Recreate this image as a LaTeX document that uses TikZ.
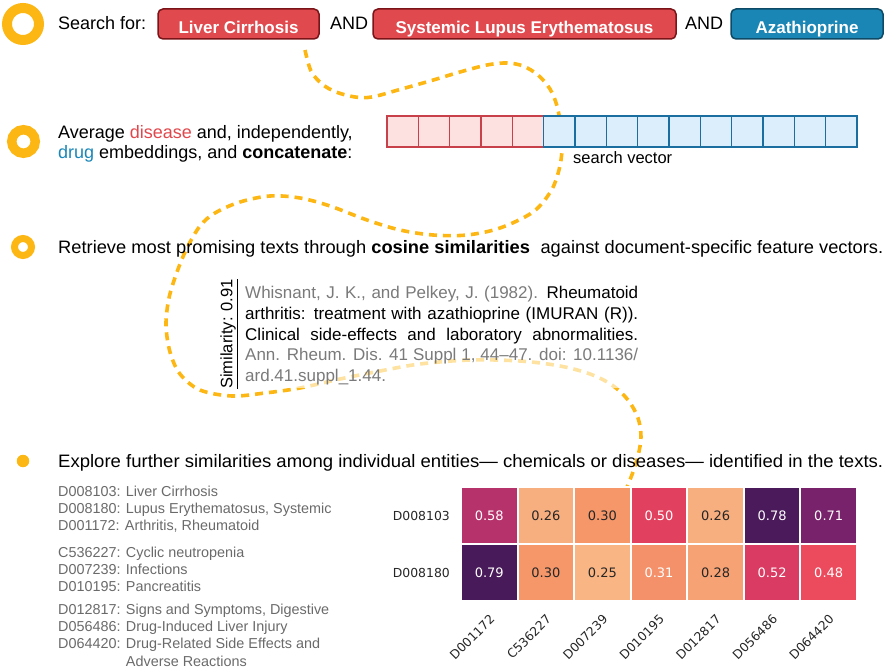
\documentclass[tikz,border=0pt]{standalone}
\usepackage{fontspec}
\usepackage{graphicx}
\setmainfont{Liberation Sans}
\newfontfamily\dejavu{DejaVu Sans}
\newcommand\setfs[1]{\fontsize{#1}{#1}\selectfont}
\definecolor{ringc}{RGB}{253,183,20}
\definecolor{redfill}{HTML}{E04A4F}
\definecolor{redborder}{HTML}{7A1418}
\definecolor{bluefill}{HTML}{1A86B5}
\definecolor{blueborder}{HTML}{0C4A66}
\definecolor{disred}{HTML}{E0474C}
\definecolor{drugblue}{HTML}{1A87B8}
\definecolor{vredfill}{HTML}{FDE0E0}
\definecolor{vredline}{HTML}{C8404A}
\definecolor{vbluefill}{HTML}{DCEEFB}
\definecolor{vblueline}{HTML}{1A6FA0}
\definecolor{refgrey}{HTML}{7A7A7A}
\definecolor{leggrey}{HTML}{6A6A6A}
\definecolor{dk}{HTML}{262626}
\definecolor{c058}{HTML}{B5326B}
\definecolor{c026}{HTML}{F8AF80}
\definecolor{c030}{HTML}{F6976A}
\definecolor{c050}{HTML}{E1415E}
\definecolor{c078}{HTML}{4A1A5A}
\definecolor{c071}{HTML}{77226A}
\definecolor{c079}{HTML}{481A59}
\definecolor{c025}{HTML}{F9B583}
\definecolor{c031}{HTML}{F4916A}
\definecolor{c028}{HTML}{F7A274}
\definecolor{c052}{HTML}{DA3B62}
\definecolor{c048}{HTML}{EC4B5D}
\begin{document}
\begin{tikzpicture}[x=1pt,y=-1pt,
  txt/.style={inner sep=0pt, anchor=base west, font=\setfs{18}},
  ringnode/.style={circle, draw=ringc, inner sep=0pt},
  searchbox/.style={rounded corners=5pt, line width=1.5pt, inner sep=0pt,
     minimum height=30pt, text=white, font=\bfseries\setfs{17}, text height=18.2pt, text depth=0pt},
  redbox/.style={searchbox, fill=redfill, draw=redborder},
  bluebox/.style={searchbox, fill=bluefill, draw=blueborder},
  vcell/.style={minimum width=31.33pt, minimum height=31pt, inner sep=0pt, line width=1.2pt},
  vred/.style={vcell, fill=vredfill, draw=vredline},
  vblue/.style={vcell, fill=vbluefill, draw=vblueline},
  curve/.style={draw=ringc, line width=3.6pt, dash pattern=on 8pt off 6pt},
  reftxt/.style={inner sep=0pt, anchor=base west, font=\setfs{17}},
  legtxt/.style={inner sep=0pt, anchor=base west, font=\setfs{14.4}, text=leggrey},
  hcell/.style={minimum width=56.57pt, minimum height=57pt, inner sep=0pt, draw=white,
     line width=2pt, font=\dejavu\setfs{13}},
  hlab/.style={inner sep=0pt, font=\dejavu\setfs{12.4}, text=dk}
]
\useasboundingbox (0,0) rectangle (886,668);

% dashed path
\coordinate (cstart) at (305,50);
\coordinate (cend) at (627,487);
\draw[curve] plot[smooth, tension=0.55] coordinates {
 (cstart) (311,71) (322,84) (336,92) (355,97) (372,97) (398,90) (430,81) (460,72)
 (487,65) (507,63) (523,66) (538,75) (550,89) (557,106) (561,128) (562,150)
 (559,170) (551,191) (533,212) (500,228) (467,235) (433,235) (400,230) (367,220)
 (330,206) (300,198) (270,196) (240,202) (215,213) (200,226) (187,248) (177,272)
 (169,298) (166,325) (170,352) (180,374) (200,390) (232,396) (265,393) (300,388)
 (340,379) (380,371) (420,364) (470,360) (520,361) (560,366) (590,374) (612,385)
 (628,400) (638,418) (641,437) (638,456) (633,472) (cend)};

% row 1
\node[ringnode, line width=10pt, minimum size=32pt] (r1) at (23,24) {};
\node[txt] (t1) at (58,30) {Search for:};
\node[redbox, minimum width=161pt] (b1) at (238.5,24) {Liver Cirrhosis};
\node[txt] (and1) at (330,30) {AND};
\node[redbox, minimum width=303pt] (b2) at (524.5,24) {Systemic Lupus Erythematosus};
\node[txt] (and2) at (685,30) {AND};
\node[bluebox, minimum width=152pt] (b3) at (807,24) {Azathioprine};

% row 2
\node[ringnode, line width=9.5pt, minimum size=23.5pt] (r2) at (23.5,141.5) {};
\node[txt] (t2a) at (58,138.3) {Average \textcolor{disred}{disease} and, independently,};
\node[txt] (t2b) at (58,158.3) {\textcolor{drugblue}{drug} embeddings, and \textbf{concatenate}:};
\foreach \i in {0,...,4} {
  \node[vred] (v\i) at ({387+31.33*(\i+0.5)},131.5) {};
}
\foreach \i in {5,...,14} {
  \node[vblue] (v\i) at ({387+31.33*(\i+0.5)},131.5) {};
}
\node[inner sep=0pt, anchor=base west, font=\setfs{16.5}] (sv) at (573,163.3) {search vector};

% row 3
\node[ringnode, line width=7pt, minimum size=17pt] (r3) at (23,247) {};
\node[txt] (t3) at (58,253.5) {\resizebox{825pt}{\height}{Retrieve most promising texts through \textbf{cosine similarities}\hspace{0.3em} against document-specific feature vectors.}};

% reference block
\fill[white, fill opacity=0.6] (243,281) rectangle (640,388);
\node[rotate=90, inner sep=0pt, font=\setfs{16.5}] (sim) at (229,334) {\underline{Similarity: 0.91}};
\node[reftxt] (l1) at (245,298.3) {\makebox[393pt][s]{\textcolor{refgrey}{Whisnant, J. K., and Pelkey, J. (1982).} Rheumatoid}};
\node[reftxt] (l2) at (245,319.2) {\makebox[393pt][s]{arthritis: treatment with azathioprine (IMURAN (R)).}};
\node[reftxt] (l3) at (245,340.0) {\makebox[393pt][s]{Clinical side-effects and laboratory abnormalities.}};
\node[reftxt, text=refgrey] (l4) at (245,360.9) {\makebox[393pt][s]{Ann. Rheum. Dis. 41 Suppl 1, 44\textendash 47. doi: 10.1136/}};
\node[reftxt, text=refgrey] (l5) at (245,381.7) {ard.41.suppl\_1.44.};

% row 4
\node[circle, fill=ringc, inner sep=0pt, minimum size=12.5pt] (r4) at (23,461) {};
\node[txt] (t4) at (58,467) {\resizebox{825pt}{\height}{Explore further similarities among individual entities\textemdash{} chemicals or diseases\textemdash{} identified in the texts.}};

% legend
\node[legtxt] (g1) at (58,496.7) {D008103: Liver Cirrhosis};
\node[legtxt] (g2) at (58,513.6) {D008180: Lupus Erythematosus, Systemic};
\node[legtxt] (g3) at (58,530.4) {D001172: Arthritis, Rheumatoid};
\node[legtxt] (g4) at (58,557.3) {C536227: Cyclic neutropenia};
\node[legtxt] (g5) at (58,574.4) {D007239: Infections};
\node[legtxt] (g6) at (58,591.5) {D010195: Pancreatitis};
\node[legtxt] (g7) at (58,614.2) {D012817: Signs and Symptoms, Digestive};
\node[legtxt] (g8) at (58,631.5) {D056486: Drug-Induced Liver Injury};
\node[legtxt] (g9) at (58,648.8) {D064420: Drug-Related Side Effects and};
\node[legtxt] (g10) at (58,666.1) {\hphantom{D064420: }Adverse Reactions};

% heatmap
\foreach \v/\c/\t [count=\j] in {0.58/c058/white,0.26/c026/dk,0.30/c030/dk,0.50/c050/white,0.26/c026/dk,0.78/c078/white,0.71/c071/white} {
  \node[hcell, fill=\c, text=\t] (ha\j) at ({461+56.57*(\j-0.5)},515.5) {\v};
}
\foreach \v/\c/\t [count=\j] in {0.79/c079/white,0.30/c030/dk,0.25/c025/dk,0.31/c031/white,0.28/c028/dk,0.52/c052/white,0.48/c048/white} {
  \node[hcell, fill=\c, text=\t] (hb\j) at ({461+56.57*(\j-0.5)},572.5) {\v};
}
\node[hlab, anchor=east] (rl1) at (450,515.5) {D008103};
\node[hlab, anchor=east] (rl2) at (450,572.5) {D008180};
\foreach \lab [count=\j] in {D001172,C536227,D007239,D010195,D012817,D056486,D064420} {
  \node[hlab, rotate=45, anchor=east] (cl\j) at ({461+56.57*(\j-0.5)+3},617) {\lab};
}
\end{tikzpicture}
\end{document}
